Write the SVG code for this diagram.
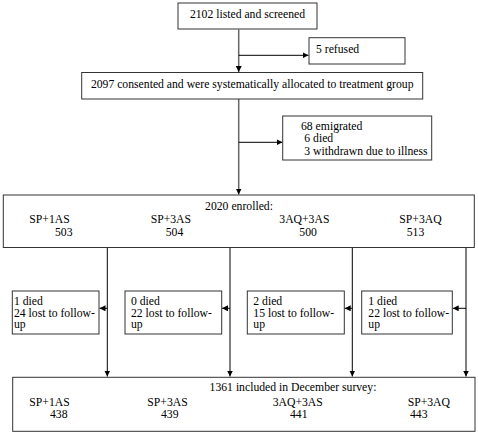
<svg xmlns="http://www.w3.org/2000/svg" width="478" height="434" viewBox="0 0 478 434">
<defs>
<style>
text{font-family:"Liberation Serif","Times New Roman",serif;font-size:11.7px;fill:#000}
.box{fill:#fff;stroke:#333;stroke-width:1}
.ln{stroke:#000;stroke-width:1;fill:none}
.trunk{stroke:#666;stroke-width:1.5;fill:none}
.mid{text-anchor:middle}
</style>
<marker id="ah" viewBox="0 0 8 8" refX="8" refY="4" markerWidth="6" markerHeight="6" markerUnits="userSpaceOnUse" orient="auto"><path d="M0,0L8,4L0,8z" fill="#000"/></marker>
</defs>
<rect width="478" height="434" fill="#fff"/>
<g id="connectors">
<path class="trunk" d="M238.7,29.5V72" marker-end="url(#ah)"/>
<path class="ln" d="M238.7,55.3H308.5" marker-end="url(#ah)"/>
<path class="trunk" d="M238.7,99V194.5" marker-end="url(#ah)"/>
<path class="ln" d="M238.7,142.3H282.5" marker-end="url(#ah)"/>
<path class="ln" d="M107.3,247.5V376.5" marker-end="url(#ah)"/>
<path class="ln" d="M230,247.5V376.5" marker-end="url(#ah)"/>
<path class="ln" d="M352.3,247.5V376.5" marker-end="url(#ah)"/>
<path class="ln" d="M466,247.5V376.5" marker-end="url(#ah)"/>
<path class="ln" d="M107.3,308.3H99.5" marker-end="url(#ah)"/>
<path class="ln" d="M230,308.3H222" marker-end="url(#ah)"/>
<path class="ln" d="M352.3,308.3H344.7" marker-end="url(#ah)"/>
<path class="ln" d="M466,308.3H452.7" marker-end="url(#ah)"/>
</g>
<g id="screened">
<rect class="box" x="178" y="3" width="139" height="26"/>
<text x="247.5" y="18" class="mid">2102 listed and screened</text>
</g>
<g id="refused">
<rect class="box" x="309" y="37.7" width="96" height="26.3"/>
<text x="316" y="52.5">5 refused</text>
</g>
<g id="consented">
<rect class="box" x="81.7" y="72.5" width="341" height="26.5"/>
<text x="252.2" y="87.5" class="mid">2097 consented and were systematically allocated to treatment group</text>
</g>
<g id="excluded">
<rect class="box" x="282.7" y="116" width="149" height="44"/>
<text x="301" y="129.5">68 emigrated</text>
<text x="304.3" y="142.3">6 died</text>
<text x="304.3" y="155">3 withdrawn due to illness</text>
</g>
<g id="enrolled">
<rect class="box" x="3.3" y="195" width="471" height="52.5"/>
<text x="239" y="209.5" class="mid">2020 enrolled:</text>
<text x="29.3" y="223.3">SP+1AS</text>
<text x="55" y="236.3">503</text>
<text x="150.7" y="223.3">SP+3AS</text>
<text x="165.7" y="236.3">504</text>
<text x="279.3" y="223.3">3AQ+3AS</text>
<text x="299.3" y="236.3">500</text>
<text x="399.3" y="223.3">SP+3AQ</text>
<text x="406.7" y="236.3">513</text>
</g>
<g id="loss1">
<rect class="box" x="12.3" y="291" width="86.7" height="43"/>
<text x="14" y="305">1 died</text>
<text x="14" y="316.7">24 lost to follow-</text>
<text x="14" y="328.3">up</text>
</g>
<g id="loss2">
<rect class="box" x="125" y="291" width="96.7" height="43"/>
<text x="131" y="305">0 died</text>
<text x="131" y="316.7">22 lost to follow-</text>
<text x="131" y="328.3">up</text>
</g>
<g id="loss3">
<rect class="box" x="247.3" y="291" width="97" height="43"/>
<text x="253.3" y="305">2 died</text>
<text x="253.3" y="316.7">15 lost to follow-</text>
<text x="253.3" y="328.3">up</text>
</g>
<g id="loss4">
<rect class="box" x="361.7" y="291" width="90.6" height="43"/>
<text x="368.3" y="305">1 died</text>
<text x="368.3" y="316.7">22 lost to follow-</text>
<text x="368.3" y="328.3">up</text>
</g>
<g id="survey">
<rect class="box" x="12.7" y="377.3" width="462.3" height="54"/>
<text x="293" y="391" class="mid">1361 included in December survey:</text>
<text x="29.3" y="406">SP+1AS</text>
<text x="50" y="418.3">438</text>
<text x="147.3" y="406">SP+3AS</text>
<text x="161" y="418.3">439</text>
<text x="272.7" y="406">3AQ+3AS</text>
<text x="290" y="418.3">441</text>
<text x="407.7" y="406">SP+3AQ</text>
<text x="410" y="418.3">443</text>
</g>
</svg>
